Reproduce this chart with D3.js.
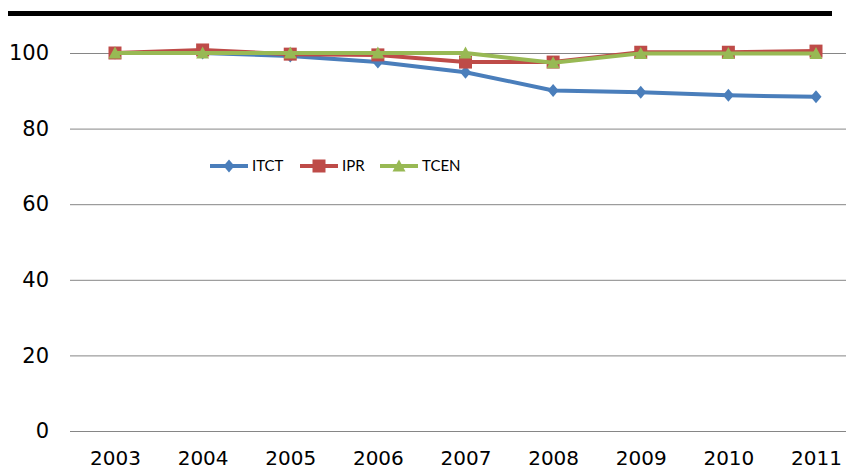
<!DOCTYPE html>
<html>
<head>
<meta charset="utf-8">
<script src="https://cdn.jsdelivr.net/npm/d3@7"></script>
<style>
  body { margin: 0; background: #fff; }
  svg { display: block; }
</style>
</head>
<body>
<script>
var width = 846,
    height = 469;

var years = ["2003", "2004", "2005", "2006", "2007", "2008", "2009", "2010", "2011"];
var itct = [100, 100, 99.2, 97.6, 94.9, 90.1, 89.6, 88.8, 88.4];
var ipr = [100, 100.8, 99.7, 99.5, 97.6, 97.6, 100.2, 100.2, 100.5];
var tcen = [100, 100, 100, 100, 100, 97.4, 99.9, 99.9, 99.9];
var yTicks = [0, 20, 40, 60, 80, 100];

var series = [
  { name: "ITCT", values: itct, color: "#4a7ebb", marker: "diamond" },
  { name: "IPR", values: ipr, color: "#be4b48", marker: "square" },
  { name: "TCEN", values: tcen, color: "#98b954", marker: "triangle" }
];

var svg = d3.select("body").append("svg")
    .attr("width", width)
    .attr("height", height);

var x = d3.scalePoint()
    .domain(years)
    .range([115, 816]);

var y = d3.scaleLinear()
    .domain([0, 100])
    .range([431, 53]);

// black rule across the top
svg.append("rect")
    .attr("x", 8).attr("y", 11)
    .attr("width", 824).attr("height", 5)
    .attr("fill", "#000");

// gridlines + y labels
var plotLeft = 70;
var yAxis = d3.axisLeft(y)
    .tickValues(yTicks)
    .tickSize(-(width - plotLeft))
    .tickPadding(21);

var gy = svg.append("g")
    .attr("transform", "translate(" + plotLeft + ",0)")
    .call(yAxis);
gy.select(".domain").remove();
gy.selectAll(".tick line").attr("stroke", "#868686").attr("stroke-width", 1);
gy.selectAll(".tick text")
    .attr("fill", "#000")
    .style("font-family", "DejaVu Sans, Verdana, sans-serif")
    .style("font-size", "21px");

// x labels
var xAxis = d3.axisBottom(x).tickSize(0).tickPadding(0);
var gx = svg.append("g")
    .attr("transform", "translate(0,465)")
    .call(xAxis);
gx.select(".domain").remove();
gx.selectAll(".tick text")
    .attr("fill", "#000")
    .attr("dy", "0")
    .style("font-family", "DejaVu Sans, Verdana, sans-serif")
    .style("font-size", "20px");

var line = d3.line()
    .x(function(d, i) { return x(years[i]); })
    .y(function(d) { return y(d); });

function markerPath(type) {
  if (type == "diamond") return "M0,-6.5L5.5,0L0,6.5L-5.5,0Z";
  if (type == "square") return "M-6.5,-6.5H6.5V6.5H-6.5Z";
  return "M0,-6.5L6.5,5.5L-6.5,5.5Z";
}

series.forEach(function(s) {
  svg.append("path")
      .datum(s.values)
      .attr("fill", "none")
      .attr("stroke", s.color)
      .attr("stroke-width", 4)
      .attr("stroke-linejoin", "round")
      .attr("d", line);

  svg.selectAll(null)
      .data(s.values)
      .enter().append("path")
      .attr("transform", function(d, i) { return "translate(" + x(years[i]) + "," + y(d) + ")"; })
      .attr("d", markerPath(s.marker))
      .attr("fill", s.color);
});

// legend
var legendX = [210, 300, 380];
var legend = svg.selectAll(".legend")
    .data(series)
    .enter().append("g")
    .attr("class", "legend")
    .attr("transform", function(d, i) { return "translate(" + legendX[i] + ",166)"; });

legend.append("line")
    .attr("x1", 0).attr("x2", 38)
    .attr("stroke", function(d) { return d.color; })
    .attr("stroke-width", 4);

legend.append("path")
    .attr("transform", "translate(19,0)")
    .attr("d", function(d) { return markerPath(d.marker); })
    .attr("fill", function(d) { return d.color; });

legend.append("text")
    .attr("x", 42)
    .attr("dy", "0.35em")
    .style("font-family", "Lato, Carlito, Calibri, sans-serif")
    .style("font-size", "15px")
    .text(function(d) { return d.name; });
</script>
</body>
</html>
